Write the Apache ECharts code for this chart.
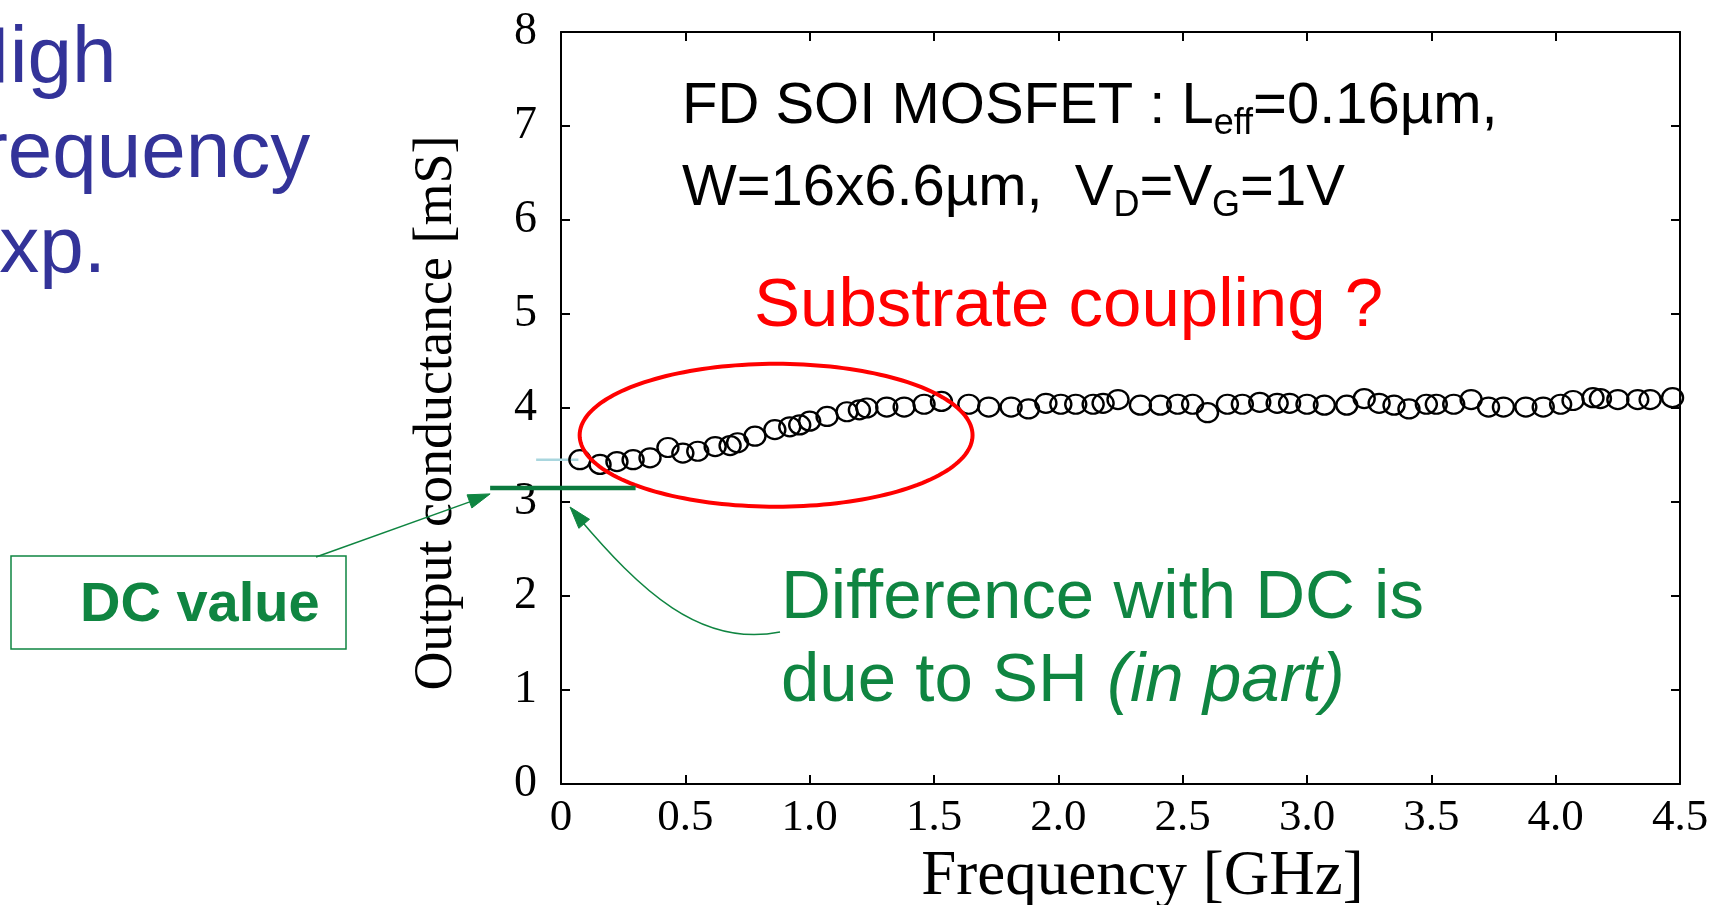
<!DOCTYPE html>
<html><head><meta charset="utf-8">
<script src="https://cdn.jsdelivr.net/npm/echarts@6/dist/echarts.min.js"></script>
<style>html,body{margin:0;padding:0;background:#fff;overflow:hidden}#c{width:1719px;height:905px}</style>
</head><body><div id="c"></div>
<script>
// ---- data ----
const freqGHz = [0.076,0.157,0.225,0.29,0.358,0.43,0.49,0.55,0.62,0.68,0.71,0.78,0.86,0.92,0.96,1.00,1.07,1.15,1.20,1.23,1.31,1.38,1.46,1.53,1.64,1.72,1.81,1.88,1.95,2.01,2.07,2.14,2.18,2.24,2.33,2.41,2.48,2.54,2.60,2.68,2.74,2.81,2.88,2.93,3.00,3.07,3.16,3.23,3.29,3.35,3.41,3.48,3.52,3.59,3.66,3.73,3.79,3.88,3.95,4.02,4.07,4.15,4.18,4.25,4.33,4.38,4.47];
const conductance_mS = [3.45,3.40,3.43,3.45,3.47,3.58,3.52,3.54,3.59,3.60,3.63,3.70,3.77,3.80,3.82,3.86,3.91,3.96,3.98,4.00,4.01,4.01,4.04,4.07,4.04,4.01,4.01,3.99,4.05,4.04,4.04,4.04,4.05,4.09,4.03,4.03,4.04,4.04,3.95,4.04,4.04,4.06,4.05,4.05,4.04,4.03,4.03,4.10,4.05,4.03,3.99,4.04,4.04,4.04,4.09,4.01,4.01,4.01,4.01,4.04,4.08,4.11,4.10,4.09,4.09,4.09,4.11];
const xTickLabels = ['0','0.5','1.0','1.5','2.0','2.5','3.0','3.5','4.0','4.5'];
const yTickLabels = ['0','1','2','3','4','5','6','7','8'];
const dcValue = 3.15;          // DC output conductance (green bar)
const hfStartValue = 3.45;     // light blue guide
const ellipseCenter = [0.865, 3.71];
const ellipseRadius = [0.79, 0.76];

const SERIF = '"Liberation Serif","Times New Roman",serif';
const SANS = '"Liberation Sans",Arial,sans-serif';
const GREEN = '#0f8541';
const RED = '#ff0000';
const BLUE = '#333399';

const chart = echarts.init(document.getElementById('c'), null, {renderer: 'canvas'});

const axisCommon = {
  axisLine: {show: true, onZero: false, lineStyle: {color: '#000', width: 2}},
  axisTick: {show: true, inside: true, length: 9, lineStyle: {color: '#000', width: 2}},
  splitLine: {show: false}
};

chart.setOption({
  backgroundColor: '#ffffff',
  animation: false,
  grid: {left: 561, right: 39, top: 32, bottom: 121, containLabel: false, outerBoundsMode: 'none'},
  xAxis: [
    Object.assign({
      type: 'value', min: 0, max: 4.5, interval: 0.5, position: 'bottom',
      name: 'Frequency [GHz]', nameLocation: 'middle', nameGap: 57,
      nameTextStyle: {fontFamily: SERIF, fontSize: 63, color: '#000', padding: [0, 0, 0, 44]},
      axisLabel: {margin: 12, fontFamily: SERIF, fontSize: 45, color: '#000',
        formatter: v => xTickLabels[Math.round(v / 0.5)]}
    }, axisCommon),
    Object.assign({
      type: 'value', min: 0, max: 4.5, interval: 0.5, position: 'top',
      axisLabel: {show: false}
    }, axisCommon)
  ],
  yAxis: [
    Object.assign({
      type: 'value', min: 0, max: 8, interval: 1, position: 'left',
      name: 'Output conductance [mS]', nameLocation: 'middle', nameGap: 97,
      nameTextStyle: {fontFamily: SERIF, fontSize: 54, color: '#000', padding: [0, 10, 0, 0]},
      axisLabel: {margin: 24, fontFamily: SERIF, fontSize: 46, color: '#000',
        padding: [0, 0, 10, 0],
        formatter: v => yTickLabels[Math.round(v)]}
    }, axisCommon),
    Object.assign({
      type: 'value', min: 0, max: 8, interval: 1, position: 'right',
      axisLabel: {show: false}
    }, axisCommon)
  ],
  series: [{
    type: 'scatter',
    xAxisIndex: 0, yAxisIndex: 0,
    data: freqGHz.map((f, i) => [f, conductance_mS[i]]),
    symbol: 'circle',
    symbolSize: [21, 19],
    itemStyle: {color: 'rgba(0,0,0,0)', borderColor: '#000', borderWidth: 2.3, opacity: 1},
    z: 5
  }]
});

// ---- annotations ----
const px = (x, y) => chart.convertToPixel({xAxisIndex: 0, yAxisIndex: 0}, [x, y]);

function textEl(x, baseline, text, size, color, extra) {
  const s = Object.assign({
    x: x, y: baseline - 0.3465 * size, text: text,
    fontSize: size, fontFamily: SANS, fill: color,
    align: 'left', verticalAlign: 'middle'
  }, extra || {});
  return {type: 'text', z: 50, style: s};
}

function arrowHead(tip, from, len, hw, color) {
  const dx = tip[0] - from[0], dy = tip[1] - from[1];
  const d = Math.hypot(dx, dy), ux = dx / d, uy = dy / d;
  const bx = tip[0] - ux * len, by = tip[1] - uy * len;
  return {type: 'polygon', z: 60,
    shape: {points: [tip, [bx - uy * hw, by + ux * hw], [bx + uy * hw, by - ux * hw]]},
    style: {fill: color, stroke: color, lineWidth: 1}};
}

const graphics = [];

// light blue guide line
const lb0 = px(-0.1, hfStartValue), lb1 = px(0.07, hfStartValue);
graphics.push({type: 'line', z: 1, shape: {x1: lb0[0], y1: lb0[1], x2: lb1[0], y2: lb1[1]},
  style: {stroke: '#a9d6de', lineWidth: 2.5}});

// DC value bar
const dc0 = px(-0.285, dcValue), dc1 = px(0.30, dcValue);
graphics.push({type: 'line', z: 40, shape: {x1: dc0[0], y1: dc0[1], x2: dc1[0], y2: dc1[1]},
  style: {stroke: '#0b7a3e', lineWidth: 4.5}});

// red ellipse
const ec = px(ellipseCenter[0], ellipseCenter[1]);
const er = px(ellipseCenter[0] + ellipseRadius[0], ellipseCenter[1] + ellipseRadius[1]);
const rx = er[0] - ec[0], ry = ec[1] - er[1];
const ePts = [];
for (let i = 0; i < 180; i++) {
  const t = i / 180 * Math.PI * 2;
  ePts.push([ec[0] + rx * Math.cos(t), ec[1] + ry * Math.sin(t)]);
}
graphics.push({type: 'polygon', z: 30, shape: {points: ePts},
  style: {fill: null, stroke: RED, lineWidth: 4}});

// DC value box + text
graphics.push({type: 'rect', z: 40, shape: {x: 11, y: 556, width: 335, height: 93},
  style: {fill: '#fff', stroke: GREEN, lineWidth: 1.5}});
graphics.push(textEl(80, 625, 'DC value', 56, GREEN, {fontWeight: 'bold'}));

// arrow from box to DC bar
const a1from = [316, 557];
const a1tip = [dc0[0], dc0[1] + 6];
graphics.push({type: 'line', z: 45, shape: {x1: a1from[0], y1: a1from[1], x2: a1tip[0] - 12, y2: a1tip[1] + 5},
  style: {stroke: GREEN, lineWidth: 1.5}});
graphics.push(arrowHead(a1tip, a1from, 22, 7, GREEN));

// curved arrow from "Difference" text to axis
const a2tip = [570, 507];
const a2cp2 = [640, 590];
graphics.push({type: 'bezierCurve', z: 45,
  shape: {x1: 780, y1: 632, cpx1: 700, cpy1: 648, cpx2: a2cp2[0], cpy2: a2cp2[1], x2: a2tip[0] + 8, y2: a2tip[1] + 10},
  style: {stroke: GREEN, lineWidth: 1.5, fill: null}});
graphics.push(arrowHead(a2tip, a2cp2, 22, 7, GREEN));

// left clipped title
graphics.push(textEl(-48, 88, 'High', 80, BLUE));
graphics.push(textEl(-41, 183, 'frequency', 80, BLUE));
graphics.push(textEl(-54, 278, 'Exp.', 80, BLUE));

// device text with subscripts
const richMain = {fontSize: 58, fontFamily: SANS, fill: '#000', lineHeight: 70};
const richSub = {fontSize: 36, fontFamily: SANS, fill: '#000', lineHeight: 30, verticalAlign: 'bottom'};
graphics.push({type: 'text', z: 50, style: {
  x: 682, y: 127 - 0.3465 * 58, verticalAlign: 'middle', align: 'left',
  text: '{a|FD SOI MOSFET : L}{s|eff}{a|=0.16µm,}', rich: {a: richMain, s: richSub}}});
graphics.push({type: 'text', z: 50, style: {
  x: 682, y: 209 - 0.3465 * 58, verticalAlign: 'middle', align: 'left',
  text: '{a|W=16x6.6µm,  V}{s|D}{a|=V}{s|G}{a|=1V}', rich: {a: richMain, s: richSub}}});

// red question
graphics.push(textEl(754, 331, 'Substrate coupling ?', 69, RED));

// green explanation
graphics.push(textEl(781, 623, 'Difference with DC is', 69, GREEN));
graphics.push({type: 'text', z: 50, style: {
  x: 781, y: 706 - 0.3465 * 69, verticalAlign: 'middle', align: 'left',
  text: '{a|due to SH }{i|(in part)}',
  rich: {a: {fontSize: 69, fontFamily: SANS, fill: GREEN},
         i: {fontSize: 69, fontFamily: SANS, fill: GREEN, fontStyle: 'italic'}}}});

chart.setOption({graphic: graphics});
</script>
</body></html>
